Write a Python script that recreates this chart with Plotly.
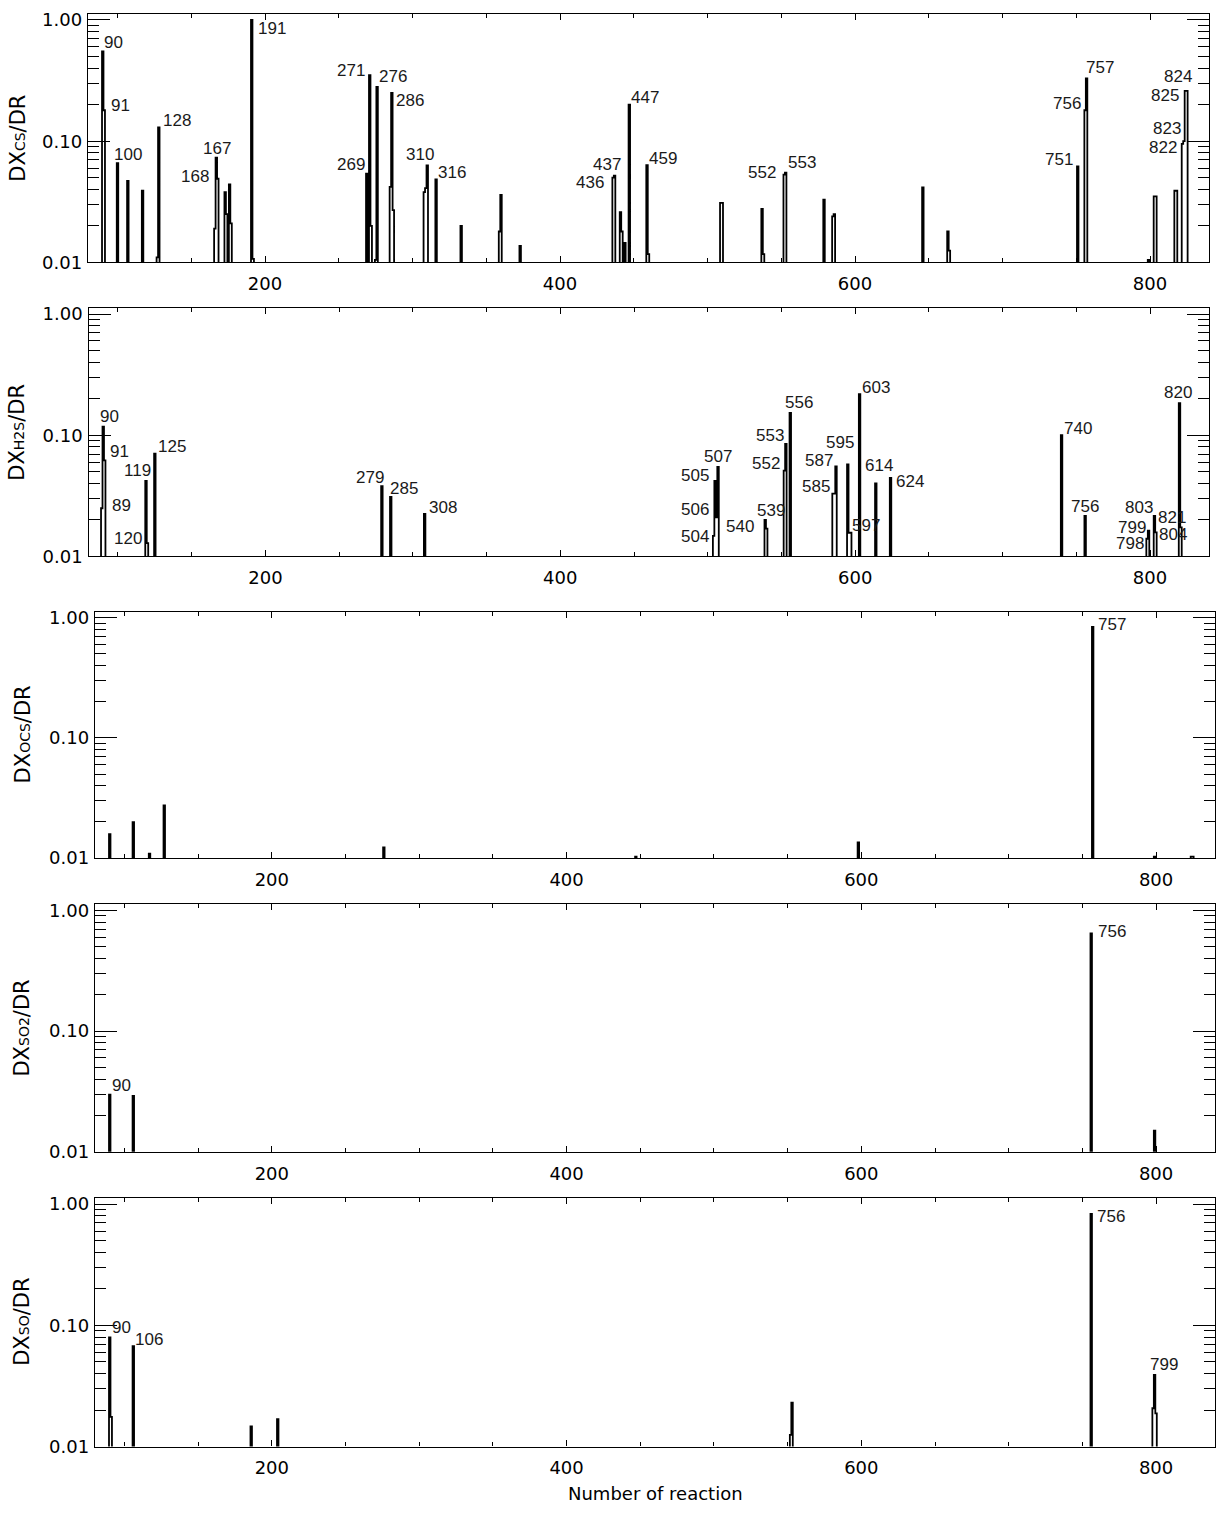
import math
import numpy as np
import plotly.graph_objects as go

# ---------------- data ----------------
X_MIN, X_MAX = 80, 840

cs_reac = [90, 91, 100, 107, 117, 127, 128, 166, 167, 168, 173, 174, 176, 177, 191, 192,
           269, 271, 272, 275, 276, 285, 286, 287, 308, 309, 310, 316, 333, 359, 360, 373,
           436, 437, 441, 442, 444, 447, 459, 460, 509, 510, 537, 538, 552, 553, 579, 585,
           586, 646, 663, 664, 751, 756, 757, 799, 803, 804, 817, 818, 822, 823, 824, 825]
cs_val = [0.55, 0.18, 0.066, 0.047, 0.039, 0.011, 0.13, 0.019, 0.073, 0.049, 0.038, 0.025, 0.044, 0.021, 1.0, 0.0107,
          0.054, 0.35, 0.02, 0.0105, 0.28, 0.042, 0.25, 0.027, 0.038, 0.041, 0.063, 0.0485, 0.020, 0.018, 0.036, 0.0137,
          0.050, 0.052, 0.026, 0.018, 0.0145, 0.20, 0.0635, 0.0117, 0.031, 0.031, 0.0276, 0.0117, 0.053, 0.055, 0.033, 0.024,
          0.025, 0.0415, 0.018, 0.0125, 0.062, 0.18, 0.33, 0.0105, 0.035, 0.035, 0.039, 0.039, 0.095, 0.10, 0.26, 0.26]

h2s_reac = [89, 90, 91, 119, 120, 125, 279, 285, 308, 504, 505, 506, 507, 539, 540, 552, 553, 556,
            585, 586, 587, 595, 596, 597, 603, 614, 624, 740, 756, 798, 799, 803, 804, 820, 821]
h2s_val = [0.025, 0.118, 0.062, 0.042, 0.0129, 0.0704, 0.038, 0.031, 0.0224, 0.0148, 0.042, 0.021, 0.0547, 0.020, 0.017, 0.051, 0.085, 0.153,
           0.033, 0.033, 0.0554, 0.0575, 0.0157, 0.0157, 0.218, 0.040, 0.0445, 0.10, 0.0216, 0.014, 0.0163, 0.0216, 0.0158, 0.184, 0.0174]

ocs_reac = [90, 106, 117, 127, 276, 447, 598, 757, 799, 824, 825]
ocs_val = [0.0158, 0.0199, 0.0109, 0.0275, 0.0123, 0.0103, 0.0135, 0.838, 0.0103, 0.0103, 0.0103]

so2_reac = [90, 106, 756, 799]
so2_val = [0.0298, 0.029, 0.643, 0.015]

so_reac = [90, 91, 106, 186, 204, 552, 553, 756, 798, 799, 800]
so_val = [0.0797, 0.0176, 0.0673, 0.0147, 0.0168, 0.0125, 0.023, 0.832, 0.0207, 0.039, 0.0188]

Y_TICKS = [0.01, 0.1, 1.0]
Y_TICKTEXT = ["0.01", "0.10", "1.00"]
X_TICKS = [200, 400, 600, 800]

# label placement: (panel, reaction, anchor, dx px, dy px above bar top)
LABELS = [
    (0, 90, 'l', 0, 2), (0, 91, 'l', 6, -2), (0, 100, 'l', -5, 2), (0, 128, 'l', 3, 0),
    (0, 167, 'l', -14, 2), (0, 168, 'r', -8, -5), (0, 191, 'l', 5, -15), (0, 269, 'r', -1, 2),
    (0, 271, 'r', -4, -2), (0, 276, 'l', 1, 4), (0, 286, 'l', 3, -14), (0, 310, 'l', -22, 4),
    (0, 316, 'l', 1, 0), (0, 436, 'r', -8, -12), (0, 437, 'r', 7, 4), (0, 447, 'l', 1, 0),
    (0, 459, 'l', 1, 0), (0, 552, 'r', -7, -5), (0, 553, 'l', 1, 3), (0, 751, 'r', -4, 0),
    (0, 756, 'r', -3, 0), (0, 757, 'l', -2, 4), (0, 822, 'r', -4, -10), (0, 823, 'r', -2, 6),
    (0, 824, 'r', 8, 7), (0, 825, 'r', -7, -12),
    (1, 89, 'l', 9, -4), (1, 90, 'l', -4, 3), (1, 91, 'l', 4, 2), (1, 119, 'r', 6, 4),
    (1, 120, 'r', -4, -2), (1, 125, 'l', 2, 0), (1, 279, 'r', 3, 2), (1, 285, 'l', -2, 2),
    (1, 308, 'l', 3, 0), (1, 504, 'r', -4, -8), (1, 505, 'r', -5, -1), (1, 506, 'r', -7, 1),
    (1, 507, 'c', 0, 4), (1, 539, 'l', -9, 3), (1, 540, 'r', -12, -5), (1, 552, 'r', -3, 0),
    (1, 553, 'r', -1, 1), (1, 556, 'l', -6, 3), (1, 585, 'r', -2, 0), (1, 587, 'r', -2, -1),
    (1, 595, 'r', 7, 15), (1, 597, 'l', 0, 0), (1, 603, 'l', 1, 0), (1, 614, 'l', -12, 11),
    (1, 624, 'l', 4, -11), (1, 740, 'l', 1, 0), (1, 756, 'c', 0, 3), (1, 798, 'r', -2, -12),
    (1, 799, 'r', -2, -4), (1, 803, 'r', 0, 2), (1, 804, 'l', 2, -9), (1, 820, 'c', -2, 4),
    (1, 821, 'r', 6, 3),
    (2, 757, 'l', 4, -5),
    (3, 90, 'l', 1, 2), (3, 756, 'l', 6, -5),
    (4, 90, 'l', 1, 3), (4, 106, 'l', 1, 0), (4, 756, 'l', 5, -10), (4, 799, 'l', -6, 4),
]

SMALL = '<span style="font-size:14px">{}</span>'
PANELS = [
    dict(reac=cs_reac, val=cs_val, title="DX" + SMALL.format("CS") + "/DR", px=(88, 1209, 9, 260), tx=18.5),
    dict(reac=h2s_reac, val=h2s_val, title="DX" + SMALL.format("H2S") + "/DR", px=(88.5, 1209, 306, 557), tx=17.5),
    dict(reac=ocs_reac, val=ocs_val, title="DX" + SMALL.format("OCS") + "/DR", px=(95, 1215, 612.7, 861.7), tx=22.5),
    dict(reac=so2_reac, val=so2_val, title="DX" + SMALL.format("SO2") + "/DR", px=(95, 1215, 908.3, 1158.3), tx=22.5),
    dict(reac=so_reac, val=so_val, title="DX" + SMALL.format("SO") + "/DR", px=(95, 1215, 1205, 1456), tx=22.5),
]

W, H = 1216, 1513
FLOOR = 1e-4  # zero sensitivity, below axis range
Y_RANGE = [-2, 0.05]

fig = go.Figure()
layout = dict(
    width=W, height=H, margin=dict(l=0, r=0, t=0, b=0),
    paper_bgcolor="white", plot_bgcolor="white", showlegend=False,
    font=dict(family="DejaVu Sans", size=18, color="black"),
)
annotations = []
minor_y = [m * 10 ** e for e in (-2, -1) for m in range(2, 10)]

for i, p in enumerate(PANELS):
    n = i + 1
    xa = "x" if n == 1 else f"x{n}"
    ya = "y" if n == 1 else f"y{n}"
    xs = np.arange(X_MIN, X_MAX + 1)
    ys = np.full(xs.shape, FLOOR)
    for r, v in zip(p["reac"], p["val"]):
        ys[r - X_MIN] = v
    fig.add_trace(go.Scatter(x=xs, y=ys, mode="lines", xaxis=xa, yaxis=ya,
                             line=dict(shape="hvh", color="black", width=1.8),
                             hoverinfo="skip"))
    x0, x1, y0, y1 = p["px"]
    xdom = [x0 / W, x1 / W]
    ydom = [1 - y1 / H, 1 - y0 / H]
    layout["xaxis" if n == 1 else f"xaxis{n}"] = dict(
        domain=xdom, anchor=ya, range=[X_MIN, X_MAX],
        tickmode="array", tickvals=X_TICKS, ticks="inside", ticklen=6, tickwidth=1,
        tickcolor="black", minor=dict(dtick=50, tick0=0, ticks="inside", ticklen=4, tickcolor="black"),
        showline=True, linecolor="black", linewidth=1.4, mirror="ticks",
        showgrid=False, zeroline=False, ticklabelstandoff=5,
        tickfont=dict(family="DejaVu Sans", size=18, color="black"),
    )
    layout["yaxis" if n == 1 else f"yaxis{n}"] = dict(
        domain=ydom, anchor=xa, type="log", range=Y_RANGE,
        tickmode="array", tickvals=Y_TICKS, ticktext=Y_TICKTEXT,
        ticks="inside", ticklen=22, tickwidth=1, tickcolor="black",
        minor=dict(tickmode="array", tickvals=minor_y, ticks="inside", ticklen=11, tickcolor="black"),
        showline=True, linecolor="black", linewidth=1.4, mirror="ticks",
        showgrid=False, zeroline=False, ticklabelstandoff=1,
        tickfont=dict(family="DejaVu Sans", size=18, color="black"),
    )
    annotations.append(dict(
        xref="paper", yref="paper", x=p["tx"] / W, y=(ydom[0] + ydom[1]) / 2,
        text=p["title"], textangle=-90, showarrow=False, xanchor="center", yanchor="middle",
        font=dict(family="DejaVu Sans", size=21, color="black"),
    ))

# bar labels
for (pi, r, anc, dx, dy) in LABELS:
    p = PANELS[pi]
    v = p["val"][p["reac"].index(r)]
    n = pi + 1
    annotations.append(dict(
        xref="x" if n == 1 else f"x{n}", yref="y" if n == 1 else f"y{n}",
        x=r, y=math.log10(v), text=str(r), showarrow=False,
        xanchor={"l": "left", "r": "right", "c": "center"}[anc], yanchor="bottom",
        xshift=dx, yshift=dy - 3.6, borderpad=0,
        font=dict(family="Liberation Sans", size=17, color="#1a1a1a"),
    ))

# x-axis title
last = PANELS[-1]["px"]
annotations.append(dict(
    xref="paper", yref="paper", x=(last[0] + last[1]) / 2 / W, y=1 - 1503 / H,
    text="Number of reaction", showarrow=False, xanchor="center", yanchor="middle",
    font=dict(family="DejaVu Sans", size=18, color="black"),
))

layout["annotations"] = annotations
fig.update_layout(**layout)
fig.write_html("out.html", config={"displayModeBar": False})

# remove the default page margin so the figure sits at the window origin
with open("out.html", "r", encoding="utf-8") as f:
    html = f.read()
html = html.replace("<head>", "<head><style>html,body{margin:0;padding:0;overflow:hidden;}</style>", 1)
with open("out.html", "w", encoding="utf-8") as f:
    f.write(html)
